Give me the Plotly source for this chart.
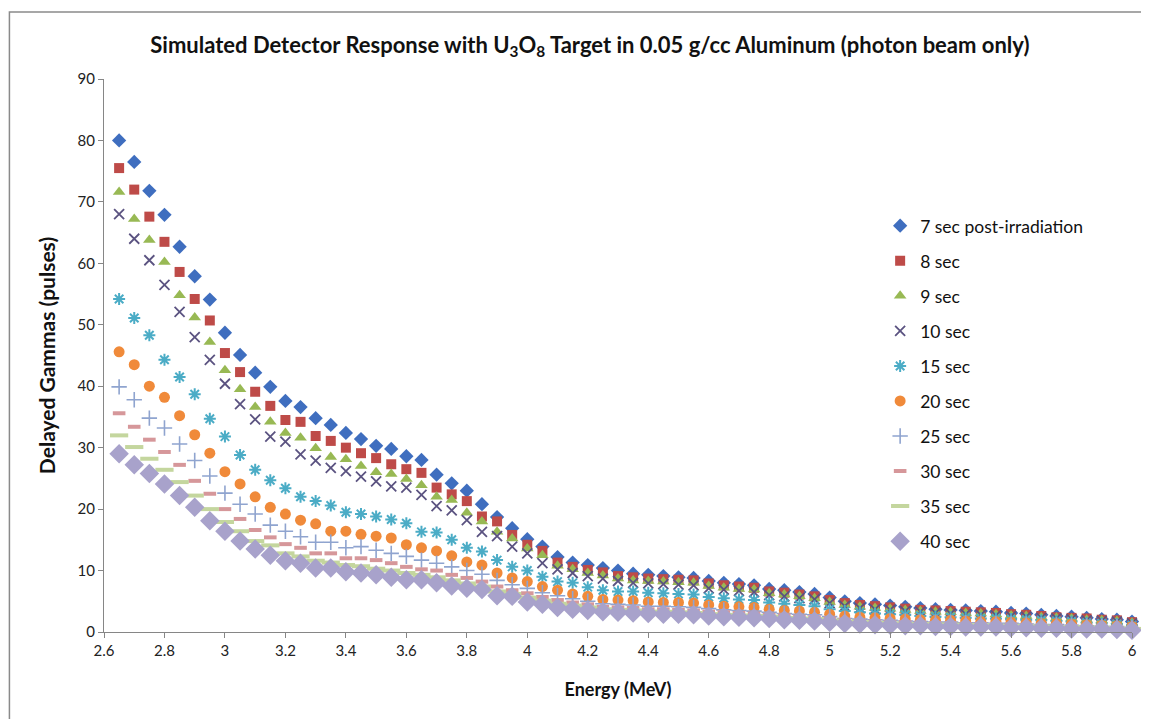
import plotly.graph_objects as go

energy = [2.65, 2.70, 2.75, 2.80, 2.85, 2.90, 2.95, 3.00, 3.05, 3.10,
          3.15, 3.20, 3.25, 3.30, 3.35, 3.40, 3.45, 3.50, 3.55, 3.60,
          3.65, 3.70, 3.75, 3.80, 3.85, 3.90, 3.95, 4.00, 4.05, 4.10,
          4.15, 4.20, 4.25, 4.30, 4.35, 4.40, 4.45, 4.50, 4.55, 4.60,
          4.65, 4.70, 4.75, 4.80, 4.85, 4.90, 4.95, 5.00, 5.05, 5.10,
          5.15, 5.20, 5.25, 5.30, 5.35, 5.40, 5.45, 5.50, 5.55, 5.60,
          5.65, 5.70, 5.75, 5.80, 5.85, 5.90, 5.95, 6.00]

sec7 = [80.0, 76.5, 71.8, 67.9, 62.7, 57.9, 54.1, 48.7, 45.1, 42.2,
        39.9, 37.6, 36.6, 34.8, 33.7, 32.4, 31.4, 30.3, 29.8, 28.6,
        28.0, 25.6, 24.2, 23.0, 20.8, 18.7, 16.9, 15.1, 13.9, 12.2,
        11.3, 10.9, 10.4, 10.0, 9.5, 9.3, 9.1, 8.9, 8.8, 8.3,
        8.0, 7.8, 7.6, 7.0, 6.8, 6.5, 6.2, 5.6, 5.0, 4.7,
        4.5, 4.3, 4.1, 3.9, 3.7, 3.6, 3.5, 3.4, 3.3, 3.1,
        3.0, 2.8, 2.6, 2.5, 2.3, 2.1, 2.0, 1.7]
sec8 = [75.5, 72.0, 67.6, 63.5, 58.6, 54.2, 50.7, 45.4, 42.3, 39.1,
        36.8, 34.5, 34.2, 31.9, 31.1, 30.0, 29.1, 28.3, 27.3, 26.5,
        25.9, 23.5, 22.4, 21.3, 18.8, 18.0, 15.8, 14.2, 13.2, 11.3,
        10.6, 10.1, 9.7, 9.1, 8.9, 8.7, 8.6, 8.5, 8.4, 7.9,
        7.6, 7.4, 7.2, 6.6, 6.4, 6.1, 5.8, 5.2, 4.7, 4.4,
        4.2, 4.0, 3.8, 3.6, 3.5, 3.4, 3.3, 3.2, 3.1, 2.9,
        2.8, 2.6, 2.4, 2.3, 2.2, 2.0, 1.9, 1.6]
sec9 = [71.6, 67.2, 63.8, 60.2, 54.8, 51.2, 47.2, 42.6, 39.5, 36.6,
        34.2, 32.4, 31.6, 29.9, 28.5, 28.1, 27.0, 26.0, 25.7, 24.9,
        23.9, 22.0, 21.5, 19.4, 18.0, 16.3, 15.2, 13.6, 12.5, 10.8,
        10.2, 9.6, 9.2, 8.7, 8.4, 8.3, 8.2, 8.1, 8.0, 7.5,
        7.2, 7.0, 6.9, 6.3, 6.1, 5.8, 5.5, 4.9, 4.4, 4.1,
        3.9, 3.8, 3.6, 3.4, 3.3, 3.2, 3.1, 3.0, 2.9, 2.7,
        2.6, 2.4, 2.3, 2.2, 2.0, 1.9, 1.8, 1.5]
sec10 = [68.0, 64.0, 60.5, 56.5, 52.1, 48.0, 44.3, 40.4, 37.1, 34.6,
         31.8, 31.0, 28.9, 27.9, 26.7, 26.2, 25.3, 24.5, 23.7, 23.5,
         22.3, 20.5, 19.8, 18.2, 16.3, 15.6, 13.9, 12.8, 11.2, 10.2,
         9.6, 9.1, 8.7, 8.3, 8.0, 7.9, 7.8, 7.7, 7.6, 7.1,
         6.9, 6.7, 6.5, 6.0, 5.8, 5.5, 5.3, 4.7, 4.2, 3.9,
         3.7, 3.6, 3.4, 3.3, 3.1, 3.0, 2.9, 2.8, 2.7, 2.6,
         2.5, 2.3, 2.2, 2.1, 1.9, 1.8, 1.7, 1.4]
sec15 = [54.2, 51.1, 48.3, 44.3, 41.5, 38.7, 34.7, 31.8, 28.8, 26.4,
         24.7, 23.4, 22.0, 21.3, 20.6, 19.5, 19.2, 18.8, 18.3, 17.7,
         16.3, 16.2, 15.0, 13.7, 13.1, 11.7, 10.6, 10.0, 9.0, 8.2,
         8.0, 7.3, 6.8, 6.6, 6.6, 6.4, 6.3, 6.2, 6.1, 5.7,
         5.5, 5.3, 5.2, 4.8, 4.6, 4.4, 4.2, 3.7, 3.4, 3.2,
         3.0, 2.9, 2.8, 2.6, 2.5, 2.4, 2.3, 2.2, 2.2, 2.1,
         2.0, 1.9, 1.8, 1.7, 1.5, 1.4, 1.3, 1.1]
sec20 = [45.6, 43.5, 40.0, 38.2, 35.2, 32.1, 29.1, 26.1, 24.1, 22.0,
         20.3, 19.2, 18.2, 17.6, 16.4, 16.4, 15.9, 15.6, 15.3, 14.2,
         13.7, 13.2, 12.4, 11.4, 10.9, 9.6, 8.8, 8.2, 7.4, 6.8,
         6.2, 5.8, 5.3, 5.2, 5.1, 4.9, 4.8, 4.8, 4.7, 4.4,
         4.2, 4.1, 4.0, 3.7, 3.5, 3.4, 3.2, 2.9, 2.6, 2.4,
         2.3, 2.2, 2.1, 2.0, 1.9, 1.9, 1.8, 1.7, 1.7, 1.6,
         1.5, 1.4, 1.4, 1.3, 1.2, 1.1, 1.0, 0.9]
sec25 = [39.9, 37.8, 34.8, 33.2, 30.6, 27.9, 25.4, 22.6, 20.8, 19.2,
         17.4, 16.4, 15.5, 14.6, 14.6, 13.7, 13.9, 13.3, 12.8, 12.3,
         11.7, 11.2, 10.6, 10.0, 9.4, 8.4, 7.7, 7.1, 6.4, 5.9,
         5.4, 5.0, 4.6, 4.5, 4.4, 4.2, 4.2, 4.1, 4.0, 3.8,
         3.6, 3.5, 3.4, 3.2, 3.0, 2.9, 2.8, 2.5, 2.2, 2.1,
         2.0, 1.9, 1.8, 1.7, 1.6, 1.6, 1.5, 1.5, 1.4, 1.4,
         1.3, 1.2, 1.2, 1.1, 1.0, 0.9, 0.9, 0.7]
sec30 = [35.6, 33.4, 31.3, 29.3, 27.2, 24.6, 22.5, 20.0, 18.4, 16.6,
         15.4, 14.3, 13.7, 12.8, 12.8, 12.0, 12.0, 11.7, 11.2, 10.6,
         10.2, 10.0, 9.3, 8.8, 8.2, 7.4, 6.8, 6.3, 5.7, 5.2,
         4.8, 4.5, 4.1, 4.0, 3.9, 3.7, 3.7, 3.6, 3.5, 3.3,
         3.2, 3.1, 3.0, 2.8, 2.7, 2.5, 2.4, 2.2, 2.0, 1.8,
         1.7, 1.6, 1.6, 1.5, 1.4, 1.4, 1.3, 1.3, 1.2, 1.2,
         1.1, 1.0, 1.0, 0.9, 0.9, 0.8, 0.7, 0.6]
sec35 = [32.0, 30.1, 28.2, 26.4, 24.4, 22.2, 20.0, 17.9, 16.4, 14.8,
         14.1, 12.8, 12.3, 11.6, 11.3, 10.9, 10.7, 10.3, 10.0, 9.6,
         9.3, 8.9, 8.4, 7.9, 7.4, 6.6, 6.2, 5.6, 5.1, 4.6,
         4.3, 4.0, 3.7, 3.6, 3.5, 3.3, 3.3, 3.2, 3.1, 2.9,
         2.8, 2.7, 2.6, 2.5, 2.3, 2.2, 2.1, 1.9, 1.7, 1.6,
         1.5, 1.4, 1.3, 1.3, 1.2, 1.2, 1.1, 1.1, 1.0, 1.0,
         0.9, 0.9, 0.8, 0.8, 0.7, 0.7, 0.6, 0.5]
sec40 = [29.0, 27.2, 25.8, 24.1, 22.2, 20.3, 18.1, 16.4, 14.8, 13.5,
         12.5, 11.6, 11.2, 10.4, 10.4, 9.8, 9.6, 9.3, 8.9, 8.5,
         8.5, 8.0, 7.5, 7.1, 6.9, 5.9, 5.8, 4.9, 4.5, 4.0,
         3.7, 3.5, 3.3, 3.2, 3.1, 3.0, 2.9, 2.9, 2.8, 2.6,
         2.5, 2.4, 2.3, 2.2, 2.0, 1.9, 1.8, 1.6, 1.4, 1.3,
         1.2, 1.1, 1.0, 1.0, 0.9, 0.9, 0.8, 0.8, 0.8, 0.7,
         0.7, 0.6, 0.6, 0.5, 0.5, 0.5, 0.4, 0.3]

series_names = ["7 sec post-irradiation", "8 sec", "9 sec", "10 sec", "15 sec",
                "20 sec", "25 sec", "30 sec", "35 sec", "40 sec"]
series_values = [sec7, sec8, sec9, sec10, sec15, sec20, sec25, sec30, sec35, sec40]

x_ticks = [2.6, 2.8, 3.0, 3.2, 3.4, 3.6, 3.8, 4.0, 4.2, 4.4, 4.6, 4.8,
           5.0, 5.2, 5.4, 5.6, 5.8, 6.0]
x_tick_labels = ["2.6", "2.8", "3", "3.2", "3.4", "3.6", "3.8", "4", "4.2", "4.4",
                 "4.6", "4.8", "5", "5.2", "5.4", "5.6", "5.8", "6"]
y_ticks = [0, 10, 20, 30, 40, 50, 60, 70, 80, 90]

styles = [
    dict(symbol="diamond", size=11, color="#3F6EBF", line=dict(width=0)),
    dict(symbol="square", size=10, color="#BE4B48", line=dict(width=0)),
    dict(symbol="triangle-up", size=11, color="#98B954", line=dict(width=0)),
    dict(symbol="x-thin-open", size=10, color="#5B5381", line=dict(width=1.8, color="#5B5381")),
    dict(symbol="asterisk-open", size=10, color="#4BACC6", line=dict(width=2, color="#4BACC6")),
    dict(symbol="circle", size=11, color="#F08A3A", line=dict(width=0)),
    dict(symbol="cross-thin-open", size=11, color="#8FA4CF", line=dict(width=1.6, color="#8FA4CF")),
    dict(symbol="line-ew-open", size=9, color="#D6979A", line=dict(width=4, color="#D6979A")),
    dict(symbol="line-ew-open", size=13, color="#C4D69E", line=dict(width=4, color="#C4D69E")),
    dict(symbol="diamond", size=15, color="#A8A2CB", line=dict(width=0)),
]

fig = go.Figure()
for i, (name, vals, st) in enumerate(zip(series_names, series_values, styles)):
    fig.add_trace(go.Scatter(
        x=energy, y=vals, mode="markers", name=name,
        legendgroup=f"g{i}",
        marker=dict(symbol=st["symbol"], size=st["size"], color=st["color"], line=st["line"]),
        cliponaxis=False,
    ))

font_family = "Lato, 'Open Sans', sans-serif"

fig.update_layout(
    width=1141, height=711,
    paper_bgcolor="white", plot_bgcolor="white",
    margin=dict(l=96, r=12, t=71, b=87),
    font=dict(family=font_family, size=15, color="#222222"),
    title=dict(
        text="<b>Simulated Detector Response with U<sub>3</sub>O<sub>8</sub> Target in 0.05 g/cc Aluminum (photon beam only)</b>",
        x=0.51, xref="container", xanchor="center",
        y=0.948, yanchor="middle",
        font=dict(family=font_family, size=22, color="#111111"),
    ),
    xaxis=dict(
        range=[2.6, 6.0], tickvals=x_ticks, ticktext=x_tick_labels,
        showgrid=False, zeroline=False,
        showline=True, linecolor="#868686", linewidth=1,
        ticks="outside", ticklen=5, tickcolor="#868686",
        tickfont=dict(size=15, color="#222222"),
        title=dict(text="<b>Energy (MeV)</b>", font=dict(size=18, color="#111111"), standoff=25),
    ),
    yaxis=dict(
        range=[0, 90], tickvals=y_ticks,
        showgrid=False, zeroline=False,
        showline=True, linecolor="#868686", linewidth=1,
        ticks="outside", ticklen=5, tickcolor="#868686",
        tickfont=dict(size=15, color="#222222"),
        title=dict(text="<b>Delayed Gammas (pulses)</b>", font=dict(size=21, color="#111111"), standoff=16),
    ),
    legend=dict(
        x=0.755, y=0.767, xanchor="left", yanchor="top",
        bgcolor="rgba(255,255,255,0)",
        font=dict(size=17.5, color="#111111"),
        tracegroupgap=9.3,
        itemsizing="trace",
    ),
    showlegend=True,
)

fig.add_shape(type="rect", xref="paper", yref="paper",
              x0=-0.092, x1=1.05, y0=-0.3, y1=1.121,
              line=dict(color="#8A8A8A", width=1.5), fillcolor="rgba(0,0,0,0)", layer="below")

fig.write_html("out.html")
